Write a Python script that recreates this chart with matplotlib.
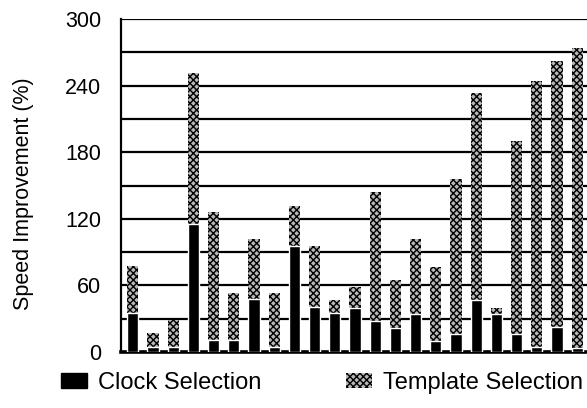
"""
Speed improvement per benchmark: clock selection vs template selection (stacked bars)
"""
import numpy as np
from matplotlib import pyplot as plt
from matplotlib.patches import Patch

# values (percent)
clock_sel = [35, 5, 5, 115, 11, 11, 48, 5, 96, 41, 35, 40,
             28, 22, 34, 10, 16, 47, 34, 16, 5, 23, 4]
total_sel = [78, 17, 29, 251, 126, 53, 102, 53, 132, 96, 47, 59,
             144, 65, 102, 77, 156, 233, 40, 190, 244, 262, 274]
template_sel = [t - c for t, c in zip(total_sel, clock_sel)]

y_ticks = [0, 60, 120, 180, 240, 300]
grid_lines = list(range(0, 301, 30))

plt.rcParams['font.family'] = ['Liberation Sans', 'DejaVu Sans']
plt.rcParams['hatch.linewidth'] = 1.0
plt.rcParams['hatch.color'] = 'black'

fig = plt.figure(figsize=(5.87, 4.08), dpi=100)
ax = fig.add_axes([0.2056, 0.137, 0.80, 0.8164])

x = np.arange(len(clock_sel))
w = 0.56
tmpl_face = '#b8b8b8'

# gridlines every 30, drawn under the bars
for g in grid_lines:
    ax.axhline(g, color='black', lw=1.6, zorder=0)

ax.bar(x, template_sel, w, bottom=clock_sel, color=tmpl_face, edgecolor='black',
       linewidth=0, hatch='xxxxx', zorder=2)
ax.bar(x, clock_sel, w, color='black', edgecolor='white', linewidth=1.0, zorder=3)

ax.set_xlim(-0.6, 22.65)
ax.set_ylim(0, 300)
ax.set_yticks(y_ticks)
ax.set_xticks([])
ax.tick_params(axis='y', length=0, pad=14, labelsize=15.5)
ax.set_ylabel('Speed Improvement (%)', fontsize=15.5)
ax.yaxis.set_label_coords(-0.185, 0.475)

for s in ['top', 'right']:
    ax.spines[s].set_visible(False)
ax.spines['left'].set_linewidth(1.6)
ax.spines['bottom'].set_linewidth(2.6)

handles = [Patch(facecolor='black', edgecolor='black', label='Clock Selection'),
           Patch(facecolor=tmpl_face, edgecolor='black', linewidth=0, hatch='xxxxx',
                 label='Template Selection')]
fig.legend(handles=handles, loc='center', bbox_to_anchor=(0.5486, 0.0613), ncol=2,
           frameon=False, fontsize=17, handlelength=1.1, handleheight=0.6,
           handletextpad=0.5, columnspacing=3.55)

fig.savefig('out.png', dpi=100)
